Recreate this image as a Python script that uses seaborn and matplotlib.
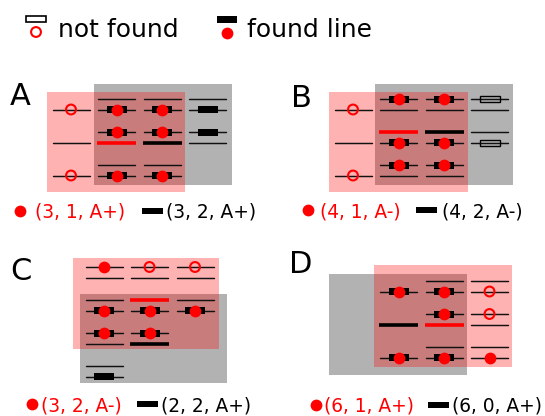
import numpy as np
import pandas as pd
import matplotlib
matplotlib.use("Agg")
import matplotlib.pyplot as plt
from matplotlib.patches import Rectangle
import seaborn as sns

sns.set_theme(style="white")
plt.rcParams['font.family'] = ['DejaVu Sans']

# ---------------- data ----------------
panel_names = ["A", "B", "C", "D"]
red_labels = ["(3, 1, A+)", "(4, 1, A-)", "(3, 2, A-)", "(6, 1, A+)"]
black_labels = ["(3, 2, A+)", "(4, 2, A-)", "(2, 2, A+)", "(6, 0, A+)"]
legend_labels = ["not found", "found line"]

# cells: (column, level, sub-row, kind)
cells_A = [
    (0, 0, 1, "miss"), (0, 1, 1, "line"), (0, 2, 1, "miss"),
    (1, 0, 0, "line"), (1, 0, 1, "found"), (1, 1, 0, "found"), (1, 1, 1, "thick_red"),
    (1, 2, 0, "line"), (1, 2, 1, "found"),
    (2, 0, 0, "line"), (2, 0, 1, "found"), (2, 1, 0, "found"), (2, 1, 1, "thick_black"),
    (2, 2, 0, "line"), (2, 2, 1, "found"),
    (3, 0, 0, "line"), (3, 0, 1, "rect"), (3, 1, 0, "rect"), (3, 1, 1, "line"),
]
cells_B = [
    (0, 0, 1, "miss"), (0, 1, 1, "line"), (0, 2, 1, "miss"),
    (1, 0, 0, "found"), (1, 0, 1, "line"), (1, 1, 0, "thick_red"), (1, 1, 1, "found"),
    (1, 2, 0, "found"), (1, 2, 1, "line"),
    (2, 0, 0, "found"), (2, 0, 1, "line"), (2, 1, 0, "thick_black"), (2, 1, 1, "found"),
    (2, 2, 0, "found"), (2, 2, 1, "line"),
    (3, 0, 0, "open_rect"), (3, 0, 1, "line"), (3, 1, 0, "line"), (3, 1, 1, "open_rect"),
]
cells_C = [
    (0, 0, 0, "dot"), (0, 0, 1, "line"), (0, 1, 0, "line"), (0, 1, 1, "found"),
    (0, 2, 0, "found"), (0, 2, 1, "line"), (0, 3, 0, "line"), (0, 3, 1, "rect"),
    (1, 0, 0, "miss"), (1, 0, 1, "line"), (1, 1, 0, "thick_red"), (1, 1, 1, "found"),
    (1, 2, 0, "found"), (1, 2, 1, "thick_black"),
    (2, 0, 0, "miss"), (2, 0, 1, "line"), (2, 1, 0, "line"), (2, 1, 1, "found"),
]
cells_D = [
    (1, 0, 1, "found"), (1, 1, 1, "thick_black"), (1, 2, 1, "found"),
    (2, 0, 0, "line"), (2, 0, 1, "found"), (2, 1, 0, "found"), (2, 1, 1, "thick_red"),
    (2, 2, 0, "line"), (2, 2, 1, "found"),
    (3, 0, 0, "line"), (3, 0, 1, "miss"), (3, 1, 0, "miss"), (3, 1, 1, "line"),
    (3, 2, 0, "line"), (3, 2, 1, "dot"),
]
panel_cells = [cells_A, cells_B, cells_C, cells_D]

# ---------------- layout (pixels) ----------------
COL = 45.5
LEVEL = 33.0
SUB = 10.5
HALF = 18.5
layout = [
    dict(x0=71, y0=99, pink=(-0.53, 2.505, -0.21, 2.82), gray=(0.505, 3.54, -0.45, 2.61),
         letter=(10, 105), lab_y=218, dot_x=20, red_x=35, bar_x=142, blk_x=166),
    dict(x0=353, y0=99, pink=(-0.53, 2.53, -0.21, 2.82), gray=(0.48, 3.52, -0.45, 2.61),
         letter=(291, 107), lab_y=217, dot_x=308, red_x=320, bar_x=416, blk_x=442),
    dict(x0=104, y0=267, pink=(-0.68, 2.53, -0.27, 2.48), gray=(-0.53, 2.70, 0.82, 3.52),
         letter=(10, 280), lab_y=411, dot_x=32, red_x=41, bar_x=137, blk_x=161),
    dict(x0=353, y0=281, pink=(0.46, 3.49, -0.48, 2.61), gray=(-0.53, 2.51, -0.21, 2.85),
         letter=(289, 273), lab_y=412, dot_x=316, red_x=324, bar_x=428, blk_x=452),
]

fig = plt.figure(figsize=(5.45, 4.16), dpi=100)
ax = fig.add_axes([0, 0, 1, 1])

dots = []
misses = []

for name, cells, lay, rl, bl in zip(panel_names, panel_cells, layout, red_labels, black_labels):
    x0, y0 = lay["x0"], lay["y0"]
    # shaded regions
    for key, col, z in (("gray", "black", 1), ("pink", "red", 2)):
        c0, c1, l0, l1 = lay[key]
        ax.add_patch(Rectangle((x0 + c0 * COL, y0 + l0 * LEVEL), (c1 - c0) * COL, (l1 - l0) * LEVEL,
                               facecolor=col, alpha=0.3, edgecolor="none", zorder=z))
    for c, lv, sb, kind in cells:
        x = x0 + c * COL
        y = y0 + lv * LEVEL + sb * SUB
        if kind == "thick_red":
            ax.plot([x - 19.5, x + 19.5], [y, y], color="red", lw=2.6, solid_capstyle="butt", zorder=3)
        elif kind == "thick_black":
            ax.plot([x - 19.5, x + 19.5], [y, y], color="black", lw=2.6, solid_capstyle="butt", zorder=3)
        else:
            ax.plot([x - HALF, x + HALF], [y, y], color="#111111", lw=1.05, zorder=3)
        if kind in ("found", "rect"):
            ax.add_patch(Rectangle((x - 10, y - 3.5), 20, 7, facecolor="black", edgecolor="none", zorder=4))
        if kind == "open_rect":
            ax.add_patch(Rectangle((x - 10, y - 3), 20, 6, facecolor="none", edgecolor="black", lw=1.0, zorder=4))
        if kind in ("found", "dot"):
            dots.append((x, y))
        if kind == "miss":
            misses.append((x, y))
    # panel letter
    lx, ly = lay["letter"]
    ax.text(lx, ly, name, fontsize=22, color="black", ha="left", va="baseline")
    # labels under panel
    yb = lay["lab_y"]
    dots.append((lay["dot_x"], yb - 7))
    ax.text(lay["red_x"], yb, rl, fontsize=13.4, color="red", ha="left", va="baseline")
    ax.add_patch(Rectangle((lay["bar_x"], yb - 10), 21, 6, facecolor="black", edgecolor="none", zorder=4))
    ax.text(lay["blk_x"], yb, bl, fontsize=13.4, color="black", ha="left", va="baseline")

# top legend
ax.add_patch(Rectangle((26, 16), 20, 6, facecolor="white", edgecolor="black", lw=1.2, zorder=4))
misses.append((36, 32))
ax.text(58, 37, legend_labels[0], fontsize=18, color="black", ha="left", va="baseline")
ax.add_patch(Rectangle((217, 16), 20, 7, facecolor="black", edgecolor="none", zorder=4))
dots.append((227, 33))
ax.text(247, 37, legend_labels[1], fontsize=18, color="black", ha="left", va="baseline")

dot_df = pd.DataFrame(dots, columns=["x", "y"])
miss_df = pd.DataFrame(misses, columns=["x", "y"])
sns.scatterplot(data=dot_df, x="x", y="y", color="red", s=72, linewidth=0, zorder=5, legend=False, ax=ax)
ax.scatter(miss_df["x"], miss_df["y"], s=50, facecolors="none", edgecolors="red", linewidths=1.5, zorder=5)

ax.set_xlim(0, 545)
ax.set_ylim(416, 0)
ax.axis("off")
fig.savefig("out.png", dpi=100)
